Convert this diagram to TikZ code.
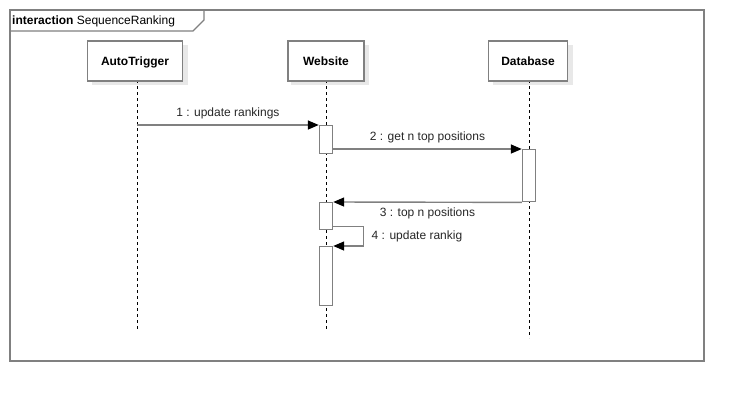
\documentclass[tikz,border=0pt]{standalone}
\usepackage{fontspec}
\setmainfont{Liberation Sans}
\usetikzlibrary{arrows.meta,calc}
\definecolor{lgrey}{HTML}{808080}
\definecolor{shgrey}{HTML}{E8E8E8}
\begin{document}
\begin{tikzpicture}[x=1pt,y=-1pt,
  head/.style={draw=lgrey,line width=1.6pt,fill=white,minimum width=#1,minimum height=40pt,anchor=north,inner sep=0pt,font=\fontsize{12}{14}\selectfont\bfseries,text depth=0pt,
    append after command={}},
  shadowbox/.style={fill=shgrey,draw=none,minimum width=#1,minimum height=40pt,anchor=north,inner sep=0pt},
  life/.style={draw=black,line width=0.8pt,dash pattern=on 3pt off 3pt},
  act/.style={draw=lgrey,line width=1.4pt,fill=white,minimum width=13pt,minimum height=#1,anchor=north,inner sep=0pt},
  msg/.style={draw=lgrey,line width=1.4pt,-{Triangle[length=11pt,width=9pt,color=black]}},
  lbl/.style={font=\fontsize{12}{14}\selectfont,text=black!85}]
\useasboundingbox (0,0) rectangle (744,402);
% frame
\draw[lgrey,line width=1.6pt] (10,10) rectangle (704,361);
\draw[lgrey,line width=1.4pt] (10,31) -- (193,31) -- (204,20) -- (204,10);
\node[anchor=west,inner sep=0pt,font=\fontsize{12}{14}\selectfont] (title) at (12,21) {\textbf{interaction} SequenceRanking};
% head shadows
\node[shadowbox=96pt] (s1) at (140,45) {};
\node[shadowbox=78pt] (s2) at (330,45) {};
\node[shadowbox=80pt] (s3) at (533,45) {};
% lifelines
\coordinate (l1) at (137,80);
\coordinate (l1e) at (137,330);
\coordinate (l2) at (326,80);
\coordinate (l2e) at (326,330);
\coordinate (l3) at (529,80);
\coordinate (l3e) at (529,338);
\draw[life] (l1) -- (l1e);
\draw[life] (l2) -- (l2e);
\draw[life] (l3) -- (l3e);
% heads
\node[head=95pt] (h1) at (135,40) {AutoTrigger};
\node[head=76pt] (h2) at (326,40) {Website};
\node[head=79pt] (h3) at (528,40) {Database};
% activations
\node[act=28pt] (a1) at (326,125) {};
\node[act=52pt] (d1) at (529,149) {};
\node[act=27pt] (a2) at (326,202) {};
\node[act=59pt] (a3) at (326,246) {};
% messages
\coordinate (m1s) at (137,125);
\draw[msg] (m1s) -- (a1.north west) node[lbl,midway,above=2pt] {1 : update rankings};
\draw[msg] (a1.east |- d1.north) -- (d1.north west) node[lbl,midway,above=2pt] {2 : get n top positions};
\draw[msg] (d1.south west) -- (a2.north east) node[lbl,midway,below=2pt] {3 : top n positions};
\coordinate (m4a) at ($(a2.south east)+(0,-4)$);
\coordinate (m4b) at ($(m4a)+(30,0)$);
\draw[msg] (m4a) -- (m4b) -- (m4b |- a3.north) -- (a3.north east);
\node[lbl,anchor=west] (l4) at ($(m4b)+(5,10)$) {4 : update rankig};
\end{tikzpicture}
\end{document}
